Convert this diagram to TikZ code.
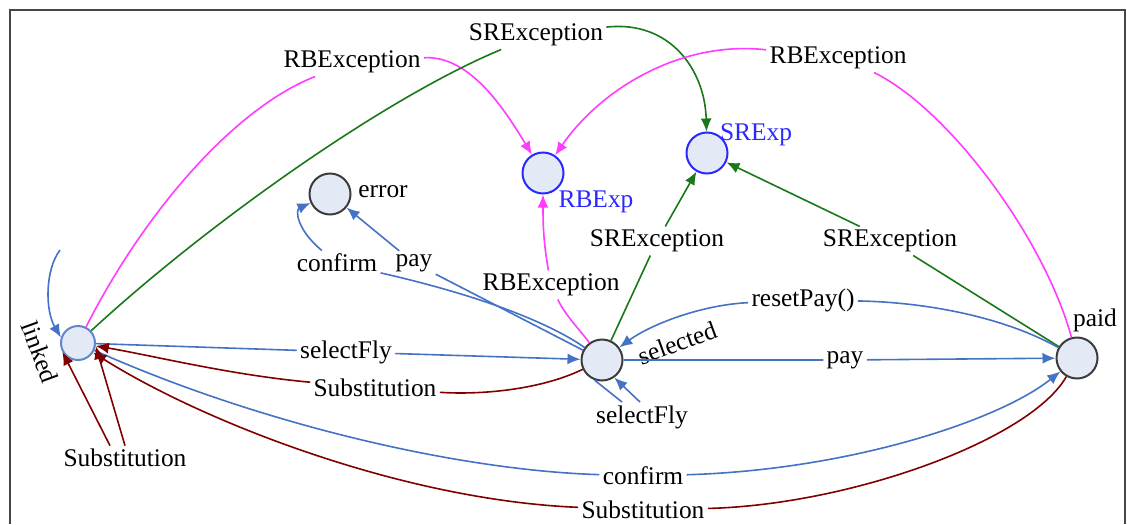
\documentclass[tikz,border=0pt]{standalone}
\usepackage{fontspec}
\setmainfont{Liberation Serif}
\usetikzlibrary{arrows.meta}
\definecolor{tblue}{RGB}{68,114,196}
\definecolor{tpink}{RGB}{255,60,255}
\definecolor{tgreen}{RGB}{25,120,25}
\definecolor{tred}{RGB}{128,0,0}
\definecolor{sfill}{RGB}{228,234,245}
\definecolor{sline}{RGB}{60,60,60}
\definecolor{xline}{RGB}{40,40,255}
\definecolor{frameclr}{RGB}{70,70,70}
\tikzset{
  state/.style={circle, fill=sfill, draw=sline, line width=1pt, minimum size=20.5pt, inner sep=0pt},
  xstate/.style={state, draw=xline},
  lstate/.style={state, draw=tblue!85, minimum size=17pt},
  lbl/.style={font=\fontsize{12.7}{14}\selectfont, inner sep=1.5pt},
  xlbl/.style={lbl, text=xline},
  tip/.style={-{Latex[length=6.5pt,width=5.5pt]}},
  eblue/.style={draw=tblue, line width=0.8pt},
  epink/.style={draw=tpink, line width=0.8pt},
  egreen/.style={draw=tgreen, line width=0.8pt},
  ered/.style={draw=tred, line width=0.8pt},
  frame/.style={draw=frameclr, line width=1.2pt}
}
\begin{document}
\begin{tikzpicture}[x=0.5pt, y=-0.5pt]
\useasboundingbox (0,0) rectangle (1127,524);
\draw[frame] (10,524) -- (10,10) -- (1125,10) -- (1125,524);

% states
\node[lstate] (linked) at (78,343) {};
\node[state] (error) at (330,194) {};
\node[xstate] (rbexp) at (543,173) {};
\node[xstate] (srexp) at (707,153) {};
\node[state] (selected) at (602,360) {};
\node[state] (paid) at (1077,358) {};

% state names
\node[lbl, rotate=-70] (nlinked) at (40,352) {linked};
\node[lbl] (nerror) at (383,192) {error};
\node[xlbl] (nrbexp) at (596,202) {RBExp};
\node[xlbl] (nsrexp) at (756,135) {SRExp};
\node[lbl, rotate=20] (nselected) at (677,343) {selected};
\node[lbl] (npaid) at (1095,320) {paid};

% transition labels
\node[lbl] (rb1) at (352,62) {RBException};
\node[lbl] (sr1) at (536,35) {SRException};
\node[lbl] (rb3) at (838,58) {RBException};
\node[lbl] (rb2) at (551,285) {RBException};
\node[lbl] (sr2) at (657,241) {SRException};
\node[lbl] (sr3) at (890,241) {SRException};
\node[lbl] (pay1) at (414,263) {pay};
\node[lbl] (cf1) at (337,263) {confirm};
\node[lbl] (sf1) at (346,352) {selectFly};
\node[lbl] (sub1) at (375,388) {Substitution};
\node[lbl] (sf2) at (642,417) {selectFly};
\node[lbl] (rp) at (803,300) {resetPay()};
\node[lbl] (pay2) at (845,360) {pay};
\node[lbl] (cf2) at (643,476) {confirm};
\node[lbl] (sub3) at (643,510) {Substitution};
\node[lbl] (sub2) at (125,458) {Substitution};

% exception transitions
\draw[epink, tip] (linked) .. controls (140,220) and (230,110) .. (rb1)
  .. controls (470,55) and (505,110) .. (rbexp);
\draw[egreen, tip] (linked) .. controls (200,230) and (380,100) .. (sr1)
  .. controls (670,20) and (705,70) .. (srexp);
\draw[epink, tip] (paid) .. controls (1045,240) and (950,110) .. ([xshift=18pt]rb3.south)
  (rb3) .. controls (680,40) and (600,90) .. (rbexp);
\draw[epink, tip] (selected) .. controls (580,330) and (565,315) .. (rb2)
  .. controls (543,240) and (543,220) .. (rbexp);
\draw[egreen, tip] (selected) -- (sr2) -- (srexp);
\draw[egreen, tip] (paid) -- (sr3) -- (srexp);

% ordinary transitions
\coordinate (loopin) at (60,250);
\draw[eblue, tip] (loopin) .. controls (45,270) and (45,310) .. (linked.162);
\draw[eblue, tip] (selected) -- (pay1) -- (error);
\draw[eblue, tip] (selected) .. controls (560,330) and (500,300) .. (cf1)
  .. controls (297,230) and (295,210) .. (error);
\draw[eblue, tip] (linked) -- (sf1) -- (selected);
\draw[ered, tip] (selected) .. controls (540,390) and (480,395) .. (sub1)
  .. controls (230,375) and (150,355) .. (linked);
\draw[eblue] (selected.250) -- ([xshift=-10pt]sf2.north);
\draw[eblue, tip] ([xshift=-1pt]sf2.north) -- (selected.305);
\draw[eblue, tip] (paid) .. controls (1000,315) and (920,302) .. (rp)
  .. controls (700,305) and (650,325) .. (selected);
\draw[eblue, tip] (selected) -- (pay2) -- (paid);
\draw[eblue, tip] (linked) .. controls (250,420) and (450,470) .. (cf2)
  .. controls (850,470) and (1000,420) .. (paid);
\draw[ered, tip] (paid) .. controls (1030,440) and (850,505) .. (sub3)
  .. controls (400,500) and (200,420) .. (linked);
\draw[ered, tip] ([xshift=-7.5pt]sub2.north) -- (linked.210);
\draw[ered, tip] (sub2.north) -- (linked.350);
\end{tikzpicture}
\end{document}
